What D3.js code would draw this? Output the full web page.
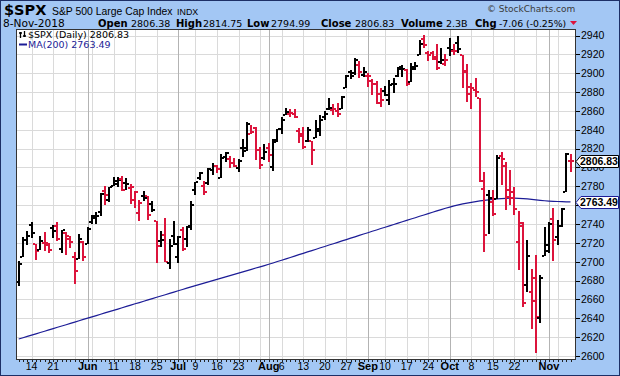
<!DOCTYPE html>
<html><head><meta charset="utf-8">
<script src="https://cdn.jsdelivr.net/npm/d3@7"></script>
<style>body{margin:0;padding:0;background:#fff}svg{display:block}</style>
</head><body><svg id="c" width="620" height="376"></svg>
<script>
const dates=["2018-05-09","2018-05-10","2018-05-11","2018-05-14","2018-05-15","2018-05-16","2018-05-17","2018-05-18","2018-05-21","2018-05-22","2018-05-23","2018-05-24","2018-05-25","2018-05-29","2018-05-30","2018-05-31",
"2018-06-01","2018-06-04","2018-06-05","2018-06-06","2018-06-07","2018-06-08","2018-06-11","2018-06-12","2018-06-13","2018-06-14","2018-06-15","2018-06-18","2018-06-19","2018-06-20","2018-06-21","2018-06-22","2018-06-25","2018-06-26","2018-06-27","2018-06-28","2018-06-29",
"2018-07-02","2018-07-03","2018-07-05","2018-07-06","2018-07-09","2018-07-10","2018-07-11","2018-07-12","2018-07-13","2018-07-16","2018-07-17","2018-07-18","2018-07-19","2018-07-20","2018-07-23","2018-07-24","2018-07-25","2018-07-26","2018-07-27","2018-07-30","2018-07-31",
"2018-08-01","2018-08-02","2018-08-03","2018-08-06","2018-08-07","2018-08-08","2018-08-09","2018-08-10","2018-08-13","2018-08-14","2018-08-15","2018-08-16","2018-08-17","2018-08-20","2018-08-21","2018-08-22","2018-08-23","2018-08-24","2018-08-27","2018-08-28","2018-08-29","2018-08-30","2018-08-31",
"2018-09-04","2018-09-05","2018-09-06","2018-09-07","2018-09-10","2018-09-11","2018-09-12","2018-09-13","2018-09-14","2018-09-17","2018-09-18","2018-09-19","2018-09-20","2018-09-21","2018-09-24","2018-09-25","2018-09-26","2018-09-27","2018-09-28",
"2018-10-01","2018-10-02","2018-10-03","2018-10-04","2018-10-05","2018-10-08","2018-10-09","2018-10-10","2018-10-11","2018-10-12","2018-10-15","2018-10-16","2018-10-17","2018-10-18","2018-10-19","2018-10-22","2018-10-23","2018-10-24","2018-10-25","2018-10-26","2018-10-29","2018-10-30","2018-10-31",
"2018-11-01","2018-11-02","2018-11-05","2018-11-06","2018-11-07","2018-11-08"];

const open=[2678.12,2705.02,2722.70,2738.47,2718.59,2712.62,2719.71,2717.35,2735.39,2738.34,2713.98,2730.94,2723.60,2705.11,2702.43,2720.98,
2718.70,2741.67,2748.46,2753.25,2774.84,2765.84,2780.18,2785.60,2787.94,2783.21,2777.78,2765.79,2752.01,2769.73,2769.28,2760.79,2742.94,2722.12,2728.45,2698.69,2727.13,
2704.95,2733.27,2724.19,2737.68,2775.62,2788.56,2779.82,2783.14,2796.93,2801.31,2789.34,2811.35,2809.37,2804.55,2799.17,2820.68,2817.73,2835.49,2842.35,2819.00,2809.73,
2821.17,2800.48,2829.62,2840.29,2855.92,2856.79,2857.19,2838.90,2835.46,2827.88,2827.95,2831.44,2838.32,2853.93,2861.51,2860.99,2860.29,2862.35,2884.69,2901.45,2900.62,2908.94,2898.37,
2896.96,2891.59,2888.64,2868.26,2881.39,2871.57,2888.29,2896.85,2906.38,2903.83,2890.74,2906.60,2919.73,2936.76,2921.83,2921.75,2916.98,2911.65,2910.03,
2926.29,2923.80,2931.69,2919.35,2902.54,2877.53,2882.51,2873.90,2776.87,2770.54,2763.83,2767.05,2811.67,2802.00,2775.66,2773.94,2721.03,2737.87,2674.88,2667.86,2682.65,2640.68,2705.60,
2717.58,2745.45,2726.37,2738.40,2774.13,2806.38];

const high=[2701.27,2726.11,2732.86,2742.10,2718.59,2727.76,2731.96,2719.50,2739.19,2742.24,2733.33,2731.97,2727.36,2710.67,2729.34,2722.50,
2736.93,2749.16,2752.61,2772.39,2779.90,2779.39,2790.21,2789.80,2791.47,2789.06,2782.81,2774.99,2765.05,2774.86,2769.28,2764.17,2742.94,2732.91,2746.09,2724.34,2743.26,
2727.26,2736.58,2737.83,2764.41,2784.65,2795.58,2785.91,2799.22,2804.53,2803.15,2814.19,2816.76,2812.05,2809.70,2808.61,2829.99,2848.03,2845.57,2843.17,2821.74,2824.46,
2825.83,2829.91,2840.38,2853.29,2863.43,2862.44,2862.48,2842.20,2843.40,2843.11,2827.95,2850.49,2855.63,2859.76,2873.23,2867.54,2868.78,2876.16,2898.25,2903.77,2916.50,2912.46,2906.32,
2900.18,2894.21,2892.05,2883.81,2886.93,2892.52,2894.65,2906.76,2908.30,2904.65,2911.17,2912.36,2934.80,2940.91,2923.79,2923.95,2931.15,2927.22,2920.53,
2937.06,2931.42,2939.86,2919.78,2909.64,2889.45,2894.83,2874.02,2795.14,2775.77,2775.99,2813.46,2816.94,2806.04,2797.77,2778.94,2753.59,2742.59,2722.70,2692.38,2706.85,2685.43,2736.69,
2741.67,2756.55,2744.27,2756.82,2815.15,2814.75];

const low=[2674.14,2704.54,2717.45,2725.47,2701.91,2712.17,2711.36,2709.18,2725.70,2721.88,2709.54,2707.38,2714.99,2676.81,2702.43,2700.68,
2718.70,2740.54,2739.51,2748.46,2760.16,2763.59,2780.17,2778.78,2774.65,2776.52,2761.73,2757.12,2743.19,2763.91,2744.39,2752.68,2698.67,2715.60,2699.38,2691.99,2718.03,
2698.95,2711.16,2716.02,2733.52,2770.73,2786.24,2770.77,2781.53,2791.69,2793.82,2789.24,2805.89,2799.77,2800.01,2795.14,2811.12,2817.73,2835.26,2808.34,2798.11,2808.06,
2805.85,2796.34,2827.37,2835.98,2855.92,2853.09,2851.98,2825.81,2819.88,2826.58,2802.49,2831.44,2833.73,2850.62,2861.32,2856.05,2854.03,2862.35,2884.69,2893.50,2898.40,2895.22,2895.77,
2885.13,2876.92,2867.29,2864.12,2875.94,2866.78,2879.20,2896.39,2895.77,2886.16,2890.43,2903.82,2919.73,2927.11,2912.63,2913.70,2903.28,2909.27,2907.50,
2917.91,2919.37,2921.36,2883.92,2869.29,2862.08,2874.27,2784.86,2710.51,2729.44,2749.03,2766.91,2781.81,2755.18,2760.27,2749.22,2691.43,2651.89,2667.84,2628.16,2603.54,2635.34,2705.60,
2708.85,2700.44,2717.94,2737.08,2774.13,2794.99];

const close=[2697.79,2723.07,2727.72,2730.13,2711.45,2722.46,2720.13,2712.97,2733.01,2724.44,2733.29,2727.76,2721.33,2689.86,2724.01,2705.27,
2734.62,2746.87,2748.80,2772.35,2770.37,2779.03,2782.00,2786.85,2775.63,2782.49,2779.66,2773.75,2762.59,2767.32,2749.76,2754.88,2717.07,2723.06,2699.63,2716.31,2718.37,
2726.71,2713.22,2736.61,2759.82,2784.17,2793.84,2774.02,2798.29,2801.31,2798.43,2809.55,2815.62,2804.49,2801.83,2806.98,2820.40,2846.07,2837.44,2818.82,2802.60,2816.29,
2813.36,2827.22,2840.35,2850.40,2858.45,2857.70,2853.58,2833.28,2821.93,2839.96,2818.37,2840.69,2850.13,2857.05,2862.96,2861.82,2856.98,2874.69,2896.74,2897.52,2914.04,2901.13,2901.52,
2896.72,2888.60,2878.05,2871.68,2877.13,2887.89,2888.92,2904.18,2904.98,2888.80,2904.31,2907.95,2930.75,2929.67,2919.37,2915.56,2905.97,2914.00,2913.98,
2924.59,2923.43,2925.51,2901.61,2885.57,2884.43,2880.34,2785.68,2728.37,2767.13,2750.79,2809.92,2809.21,2768.78,2767.78,2755.88,2740.69,2656.10,2705.57,2658.69,2641.25,2682.63,2711.74,
2740.37,2723.06,2738.31,2755.45,2813.89,2806.83];

const prevClose=2671.92;

const ma200=[2618.0,2619.4,2620.8,2622.2,2623.5,2624.9,2626.3,2627.7,2629.1,2630.5,2631.8,2633.2,2634.6,2636.0,2637.4,2638.8,
2640.1,2641.5,2642.9,2644.3,2645.7,2647.1,2648.4,2649.8,2651.2,2652.6,2654.0,2655.4,2656.7,2658.1,2659.5,2660.9,2662.3,2663.7,2665.0,2666.4,2667.8,
2669.2,2670.6,2672.0,2673.3,2674.6,2676.0,2677.3,2678.6,2680.0,2681.3,2682.6,2684.0,2685.3,2686.6,2687.9,2689.3,2690.6,2691.9,2693.3,2694.6,2695.9,
2697.3,2698.7,2700.2,2701.6,2703.1,2704.5,2706.0,2707.5,2708.9,2710.4,2711.8,2713.3,2714.8,2716.2,2717.7,2719.1,2720.6,2722.1,2723.5,2725.0,2726.4,2727.9,2729.4,
2730.8,2732.3,2733.7,2735.2,2736.6,2738.1,2739.5,2741.0,2742.4,2743.9,2745.3,2746.7,2748.2,2749.6,2751.0,2752.5,2753.9,2755.3,2756.7,
2758.0,2759.2,2760.3,2761.3,2762.2,2763.0,2763.8,2764.5,2765.0,2765.6,2766.1,2766.6,2767.0,2767.3,2767.5,2767.5,2767.3,2767.0,2766.6,2766.1,2765.6,2765.1,2764.7,
2764.4,2764.1,2763.9,2763.7,2763.6,2763.49];

const yTicks=[2600,2620,2640,2660,2680,2700,2720,2740,2760,2780,2800,2820,2840,2860,2880,2900,2920,2940];
const tickDates=["2018-05-14","2018-05-21","2018-06-01","2018-06-11","2018-06-18","2018-06-25","2018-07-02","2018-07-09","2018-07-16","2018-07-23","2018-08-01","2018-08-06","2018-08-13","2018-08-20","2018-08-27","2018-09-04","2018-09-10","2018-09-17","2018-09-24","2018-10-01","2018-10-08","2018-10-15","2018-10-22","2018-11-01"];
const tickLabels=["14","21","Jun","11","18","25","Jul","9","16","23","Aug","6","13","20","27","Sep","10","17","24","Oct","8","15","22","Nov"];
const monthStarts=["2018-06-01","2018-07-02","2018-08-01","2018-09-04","2018-10-01","2018-11-01"];
const weekStarts=["2018-05-14","2018-05-21","2018-05-29","2018-06-04","2018-06-11","2018-06-18","2018-06-25","2018-07-09","2018-07-16","2018-07-23","2018-07-30","2018-08-06","2018-08-13","2018-08-20","2018-08-27","2018-09-10","2018-09-17","2018-09-24","2018-10-08","2018-10-15","2018-10-22","2018-10-29","2018-11-05"];

const lastClose=2806.83, lastMA=2763.49;
const headerNums=[["Open","2806.38"],["High","2814.75"],["Low","2794.99"],["Close","2806.83"],["Volume","2.3B"],["Chg","-7.06 (-0.25%)"]];

const svg=d3.select("#c");
const W=620,H=376;
const L=16,R=576,T=29,B=359;
const RED="#dc143c", NAVY="#1c1c96";
const AR="'Liberation Sans',Arial,sans-serif";
const VD="'DejaVu Sans',Verdana,sans-serif";

svg.append("rect").attr("x",0).attr("y",0).attr("width",W).attr("height",H).attr("fill","#a3c7f4");
svg.append("rect").attr("x",0.5).attr("y",0.5).attr("width",W-1).attr("height",H-1).attr("fill","none").attr("stroke","#1d2f66");

const x=d3.scalePoint().domain(dates).range([18.7,570.5]);
const y=d3.scaleLinear().domain([2600,2940]).range([356,35.5]);
const X=d=>Math.round(x(d));

svg.append("rect").attr("x",L).attr("y",T).attr("width",R-L).attr("height",B-T).attr("fill","#fff");

const grid=svg.append("g").attr("shape-rendering","crispEdges");
grid.selectAll(".hg").data(yTicks).join("line")
  .attr("x1",L).attr("x2",R).attr("y1",d=>Math.round(y(d))+0.5).attr("y2",d=>Math.round(y(d))+0.5)
  .attr("stroke","#dadada");
grid.selectAll(".wg").data(weekStarts).join("line")
  .attr("x1",d=>X(d)+0.5).attr("x2",d=>X(d)+0.5).attr("y1",T).attr("y2",B)
  .attr("stroke","#dadada");
grid.selectAll(".mg").data(monthStarts).join("line")
  .attr("x1",d=>X(d)+0.5).attr("x2",d=>X(d)+0.5).attr("y1",T).attr("y2",B)
  .attr("stroke","#b3b3b3");

// MA line
svg.append("path").datum(ma200)
  .attr("d",d3.line().x((d,i)=>x(dates[i])).y(d=>y(d)))
  .attr("fill","none").attr("stroke",NAVY).attr("stroke-width",1.2);

// OHLC bars
const bars=svg.append("g").attr("shape-rendering","crispEdges");
dates.forEach((d,i)=>{
  const pc=i===0?prevClose:close[i-1];
  const col=close[i]<pc?RED:"#000";
  const xi=X(d);
  const yh=Math.round(y(high[i])), yl=Math.round(y(low[i]));
  const g=bars.append("g").attr("fill",col);
  g.append("rect").attr("x",xi-1).attr("y",yh).attr("width",2).attr("height",Math.max(2,yl-yh));
  g.append("rect").attr("x",xi-3).attr("y",Math.round(y(open[i]))-1).attr("width",2).attr("height",2);
  g.append("rect").attr("x",xi+1).attr("y",Math.round(y(close[i]))-1).attr("width",2).attr("height",2);
});

// plot frame
svg.append("rect").attr("x",L+0.5).attr("y",T+0.5).attr("width",R-L-1).attr("height",B-T).attr("fill","none").attr("stroke","#333");

// bottom dotted ticks
svg.append("g").selectAll("rect").data(dates).join("rect")
  .attr("x",d=>X(d)).attr("y",B+1).attr("width",1).attr("height",2).attr("fill","#222");

// x labels
const month=new Set(["Jun","Jul","Aug","Sep","Oct","Nov"]);
svg.append("g").selectAll("text").data(tickDates).join("text")
  .attr("x",d=>x(d)).attr("y",370).attr("text-anchor","middle")
  .attr("font-family",AR)
  .attr("font-size",(d,i)=>month.has(tickLabels[i])?11:10.5)
  .attr("font-weight",(d,i)=>month.has(tickLabels[i])?"bold":"normal")
  .attr("fill","#000")
  .text((d,i)=>tickLabels[i]);

// right axis
const ra=svg.append("g");
ra.selectAll("line").data(yTicks).join("line")
  .attr("x1",R).attr("x2",R+4).attr("y1",d=>Math.round(y(d))+0.5).attr("y2",d=>Math.round(y(d))+0.5)
  .attr("stroke","#000").attr("shape-rendering","crispEdges");
ra.selectAll("text").data(yTicks).join("text")
  .attr("x",R+5).attr("y",d=>y(d)).attr("dy","0.36em")
  .attr("font-family",AR).attr("font-size",10.5).attr("fill","#000").text(d=>d);

// price boxes (drawn over the axis, as in the source chart)
function priceBox(v,stroke,weight){
  const yc=Math.round(y(v))+0.5;
  const gb=svg.append("g");
  gb.append("path").attr("d",`M${R},${yc} L${R+5},${yc-6} L${W-1.5},${yc-6} L${W-1.5},${yc+6} L${R+5},${yc+6} Z`)
    .attr("fill","#fff").attr("stroke",stroke);
  gb.append("text").attr("x",R+4).attr("y",yc).attr("dy","0.36em")
    .attr("font-family",AR).attr("font-size",10.5).attr("font-weight",weight).attr("fill","#000").text(v.toFixed(2));
}
priceBox(lastMA,NAVY,"bold");
priceBox(lastClose,"#000","bold");

// legend
const lg=svg.append("g");
lg.append("path").attr("d","M20.5,32 V38 M19,33 H22 M24.5,31 V37 M23,36 H26").attr("stroke","#000").attr("stroke-width",1.3).attr("fill","none");
lg.append("text").attr("x",28).attr("y",37.5).attr("font-family",VD).attr("font-size",9.5).attr("fill","#000").text("$SPX (Daily) 2806.83");
lg.append("line").attr("x1",19).attr("x2",27).attr("y1",44.5).attr("y2",44.5).attr("stroke",NAVY).attr("stroke-width",2);
lg.append("text").attr("x",28).attr("y",48).attr("font-family",VD).attr("font-size",9.5).attr("fill",NAVY).text("MA(200) 2763.49");

// header
const hd=svg.append("g").attr("fill","#000");
hd.append("text").attr("x",4).attr("y",15).attr("font-family",VD).attr("font-size",14.5).attr("font-weight","bold").text("$SPX");
hd.append("text").attr("x",52).attr("y",14.5).attr("font-family",AR).attr("font-size",10.4).text("S&P 500 Large Cap Index");
hd.append("text").attr("x",177).attr("y",14.5).attr("font-family",AR).attr("font-size",8.9).text("INDX");
hd.append("text").attr("x",3).attr("y",27).attr("font-family",VD).attr("font-size",10.6).text("8-Nov-2018");
const labelX=[98,176,247,321,401,475], numX=[131,203,271,355,446,499];
headerNums.forEach((p,i)=>{
  hd.append("text").attr("x",labelX[i]).attr("y",26.5).attr("font-family",VD).attr("font-size",10).attr("font-weight","bold").text(p[0]);
  hd.append("text").attr("x",numX[i]).attr("y",26.5).attr("font-family",VD).attr("font-size",i===5?9.3:9.5).text(p[1]);
});
svg.append("path").attr("d","M570,21 L577,21 L573.5,25 Z").attr("fill",RED);
svg.append("text").attr("x",487).attr("y",12).attr("font-family",VD).attr("font-size",9).attr("fill","#3a3a3a").text("© StockCharts.com");
</script></body></html>
